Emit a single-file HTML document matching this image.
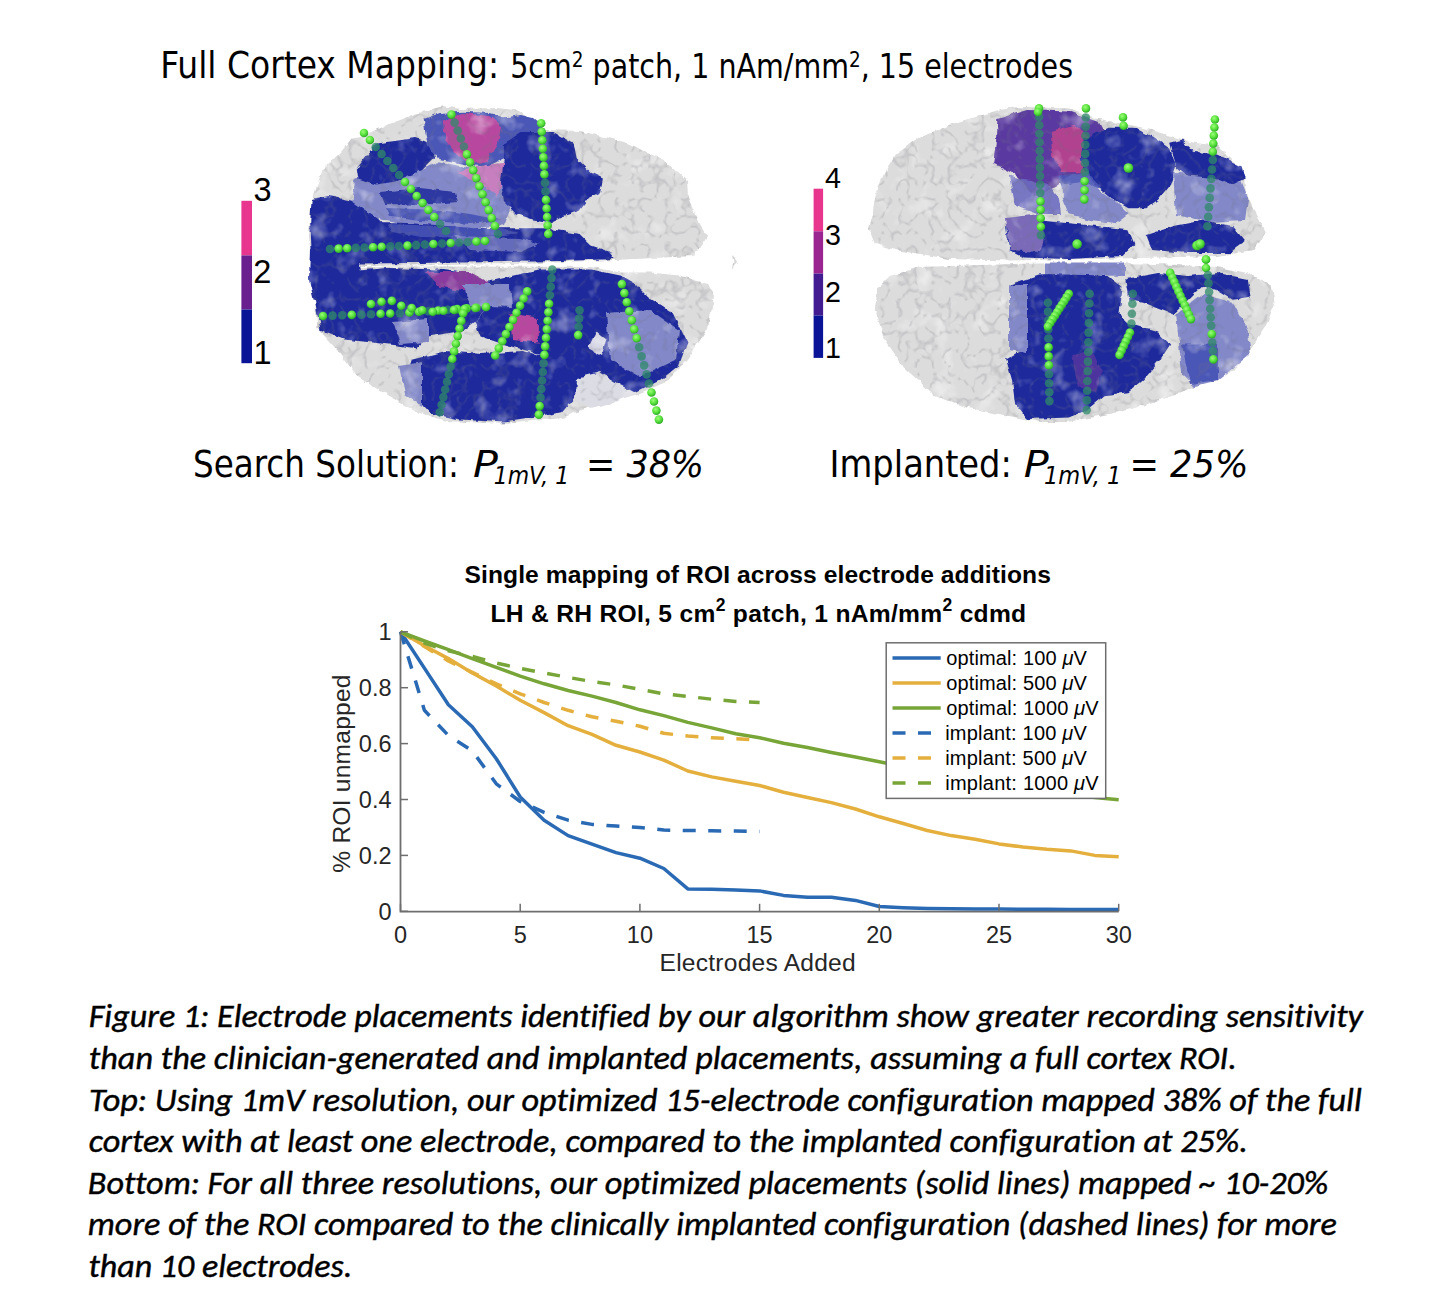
<!DOCTYPE html>
<html><head><meta charset="utf-8"><title>Figure 1</title>
<style>
html,body{margin:0;padding:0;background:#fff;}
body{width:1442px;height:1316px;overflow:hidden;}
svg{display:block;}
.tah{font-family:"DejaVu Sans Condensed","DejaVu Sans","Liberation Sans",sans-serif;}
.tahi{font-family:"DejaVu Sans Condensed","DejaVu Sans","Liberation Sans",sans-serif;font-style:italic;}
.hel{font-family:"Liberation Sans",Arial,sans-serif;}
.helb{font-family:"Liberation Sans",Arial,sans-serif;font-weight:bold;}
.cal{font-family:Carlito,"Liberation Sans",sans-serif;font-style:italic;font-variant-ligatures:none;font-feature-settings:"liga" 0,"clig" 0,"dlig" 0;}

</style></head>
<body>
<svg width="1442" height="1316" viewBox="0 0 1442 1316">
<rect width="1442" height="1316" fill="#fff"/>
<!-- top title -->
<g fill="#000">
<text x="160.3" y="78.1" class="tah" font-size="37.8" textLength="338.8" lengthAdjust="spacingAndGlyphs"  >Full Cortex Mapping:</text>
<text x="510.2" y="78.1" class="tah" font-size="33.1" textLength="562.83" lengthAdjust="spacingAndGlyphs"  >5cm<tspan font-size='21.4' dy='-11.3'>2</tspan><tspan dy='11.3'> patch, 1 nAm/mm</tspan><tspan font-size='21.4' dy='-11.3'>2</tspan><tspan dy='11.3'>, 15 electrodes</tspan></text>
</g>
<!-- brains -->
<defs>
<filter id="tex" x="-2%" y="-2%" width="104%" height="104%" color-interpolation-filters="sRGB">
<feTurbulence type="fractalNoise" baseFrequency="0.12" numOctaves="2" seed="11" result="dn"/>
<feDisplacementMap in="SourceGraphic" in2="dn" scale="5" xChannelSelector="R" yChannelSelector="G" result="sg"/>
<feTurbulence type="fractalNoise" baseFrequency="0.045" numOctaves="3" seed="7" result="n"/>
<feColorMatrix in="n" type="matrix" values="0 0 0 0 1  0 0 0 0 1  0 0 0 0 1  0 0 0 1.3 -0.72" result="w"/>
<feComposite in="w" in2="sg" operator="in" result="wm"/>
<feTurbulence type="turbulence" baseFrequency="0.06" numOctaves="2" seed="3" result="n2"/>
<feColorMatrix in="n2" type="matrix" values="0 0 0 0 0.45  0 0 0 0 0.45  0 0 0 0 0.5  0 0 0 -1.3 0.24" result="d"/>
<feComposite in="d" in2="sg" operator="in" result="dm"/>
<feMerge result="m"><feMergeNode in="sg"/><feMergeNode in="wm"/><feMergeNode in="dm"/></feMerge>
<feGaussianBlur in="m" stdDeviation="0.7"/>
</filter>
<radialGradient id="gb" cx="0.4" cy="0.35" r="0.65"><stop offset="0" stop-color="#9cff7a"/><stop offset="0.6" stop-color="#55e03a"/><stop offset="1" stop-color="#2fa82a"/></radialGradient>
</defs>
<g filter="url(#tex)">
<polygon points="309.0,231.0 311.0,207.0 317.0,185.0 323.0,169.0 341.0,152.0 352.0,138.0 369.0,134.0 392.0,123.0 422.0,112.0 443.0,106.0 460.0,109.0 498.0,108.0 520.0,111.0 546.0,130.0 580.0,131.0 605.0,137.0 624.0,142.0 646.0,152.0 663.0,159.0 687.0,180.0 688.0,197.0 696.0,217.0 707.0,236.0 694.0,256.0 615.0,260.0 520.0,264.0 440.0,265.0 360.0,266.0 316.0,264.0 310.0,250.0" fill="#dcdcdc" />
<polygon points="335.0,270.0 387.0,266.5 475.0,266.5 591.0,267.0 620.0,272.5 650.0,272.5 679.0,275.4 708.0,284.0 714.0,296.0 708.0,328.0 687.0,360.0 664.0,383.0 635.0,395.0 591.0,406.5 562.0,418.0 504.0,424.0 446.0,421.0 416.5,412.0 387.0,395.0 358.0,377.0 338.0,351.0 317.5,328.0 314.6,299.0 320.0,288.0" fill="#dcdcdc" />
<polygon points="310.0,248.0 358.0,256.0 360.0,272.0 330.0,285.0 314.0,300.0 309.0,280.0" fill="#1e2a9c" />
<polygon points="732.0,254.0 735.0,259.0 737.0,262.0 734.0,265.0 732.0,269.0 733.5,262.0" fill="#d6d6d6" />
<polygon points="311.7,199.0 329.1,196.1 358.3,202.0 375.7,216.5 381.6,222.3 416.5,222.3 445.6,225.3 486.4,228.2 503.9,228.2 521.4,228.2 544.7,228.2 562.2,231.1 579.6,234.0 591.3,245.6 608.8,251.5 614.6,259.0 562.2,261.0 503.9,262.0 416.5,263.0 358.3,263.5 317.5,262.0 311.7,251.5 310.2,222.3" fill="#1e2a9c" />
<polygon points="388.0,224.0 440.0,226.0 500.0,229.0 520.0,233.0 480.0,238.0 420.0,237.0 392.0,232.0" fill="#4b57b6" fill-opacity="0.8" />
<polygon points="355.3,178.6 387.4,172.8 422.3,169.9 439.8,161.2 463.1,167.0 503.9,175.7 509.7,210.7 503.9,225.3 474.8,228.2 439.8,225.3 396.1,222.3 372.8,216.5 352.4,202.0" fill="#8288c8" />
<polygon points="380.0,192.0 420.0,188.0 455.0,192.0 458.0,202.0 420.0,205.0 385.0,204.0" fill="#1e2a9c" fill-opacity="0.85" />
<polygon points="386.0,208.0 440.0,210.0 470.0,214.0 500.0,220.0 470.0,224.0 420.0,220.0 390.0,216.0" fill="#4b57b6" />
<polygon points="455.0,236.0 520.0,238.0 540.0,244.0 520.0,252.0 470.0,250.0" fill="#8288c8" fill-opacity="0.7" />
<polygon points="356.8,168.5 375.7,143.7 396.1,140.8 416.5,137.9 431.1,143.7 434.0,158.3 422.3,169.9 396.1,181.6 375.7,184.5 358.3,178.6" fill="#1e2a9c" />
<polygon points="423.8,118.9 439.8,113.1 463.1,111.7 489.3,113.1 503.9,117.5 521.4,116.0 533.0,123.3 530.1,137.9 509.7,143.7 503.9,158.3 486.4,167.0 463.1,164.1 436.9,158.3 428.1,146.6 425.2,132.0" fill="#4b57b6" />
<polygon points="442.7,120.4 463.1,113.1 489.3,116.0 501.0,126.2 498.1,143.7 486.4,161.2 471.9,164.1 457.3,155.3 445.6,140.8" fill="#b8489f" />
<polygon points="457.3,172.8 474.8,167.0 503.9,162.6 515.6,169.9 501.0,184.5 498.1,196.1 486.4,187.4 468.9,178.6" fill="#c77fbf" />
<polygon points="500.0,118.0 521.0,115.0 533.0,118.0 545.0,128.0 540.0,140.0 515.0,140.0 503.0,132.0" fill="#4b57b6" />
<polygon points="503.9,143.7 521.4,132.0 553.4,132.0 573.8,143.7 576.7,158.3 591.3,172.8 602.9,178.6 600.0,193.2 588.4,199.0 579.6,210.7 562.2,216.5 550.5,222.3 533.0,219.4 515.6,213.6 503.9,202.0 501.0,181.6 503.9,158.3" fill="#1e2a9c" />
<polygon points="314.6,298.7 335.0,272.5 387.4,268.1 439.8,269.6 463.1,272.5 486.4,284.1 489.3,307.4 474.8,322.0 463.1,330.7 428.2,336.6 416.5,348.2 396.1,345.3 372.8,342.4 343.7,339.5 320.4,330.7" fill="#1e2a9c" />
<polygon points="425.0,272.0 470.0,272.0 490.0,283.0 480.0,293.0 440.0,288.0" fill="#8a3a9e" />
<polygon points="393.0,322.0 428.0,319.0 428.0,342.0 400.0,344.0" fill="#8288c8" />
<polygon points="489.3,281.2 538.9,269.6 591.3,269.6 620.4,275.4 635.0,284.1 649.6,298.7 672.8,313.3 687.4,342.4 678.7,365.7 664.1,377.3 635.0,391.9 605.9,394.8 576.7,394.8 562.2,371.5 547.6,357.0 518.5,348.2 498.1,342.4 480.6,336.6 474.8,322.0 489.3,307.4" fill="#1e2a9c" />
<polygon points="463.0,284.0 510.0,284.0 512.0,307.0 470.0,305.0" fill="#8288c8" />
<polygon points="606.0,313.0 650.0,310.0 679.0,330.0 676.0,360.0 640.0,377.0 610.0,360.0" fill="#8288c8" />
<polygon points="509.7,313.3 538.9,318.0 538.9,342.4 512.0,340.0" fill="#b8489f" />
<polygon points="410.7,359.9 445.6,351.1 480.6,354.0 521.4,351.1 562.2,359.9 579.6,377.3 576.7,394.8 562.2,412.3 533.0,418.1 503.9,422.5 460.2,419.6 431.1,413.8 413.6,394.8 404.9,377.3" fill="#1e2a9c" />
<polygon points="399.0,366.0 422.0,362.0 422.0,406.0 405.0,395.0" fill="#8288c8" />
<polygon points="577.0,378.0 600.0,372.0 620.0,385.0 636.0,393.0 612.0,403.0 590.0,408.0 576.0,400.0" fill="#dcdce4" />
<polygon points="588.0,348.0 596.0,332.0 606.0,340.0 602.0,356.0" fill="#d4d4e4" />
<polygon points="869.0,229.2 877.9,184.5 895.8,154.6 919.6,136.8 949.5,124.8 979.3,115.9 1003.2,108.4 1027.0,106.9 1068.8,108.4 1098.6,118.9 1143.3,127.8 1173.2,136.8 1194.0,142.7 1217.9,145.7 1241.7,169.6 1244.7,190.4 1256.7,214.3 1265.6,232.2 1253.7,250.1 1217.9,256.0 1158.2,257.5 1098.6,259.0 1009.1,260.5 949.5,259.0 895.8,250.1 874.9,244.1" fill="#dcdcdc" />
<polygon points="889.8,275.9 919.6,266.9 1009.1,264.0 1098.6,262.5 1158.2,264.0 1217.9,266.9 1247.7,272.9 1271.6,284.8 1274.5,302.7 1265.6,326.6 1247.7,353.4 1232.8,371.3 1203.0,383.2 1173.2,395.2 1128.4,410.1 1098.6,416.0 1068.8,422.0 1039.0,422.0 1009.1,416.0 964.4,407.1 934.6,395.2 904.7,368.3 883.9,338.5 874.9,308.7 877.9,287.8" fill="#dcdcdc" />
<polygon points="997.2,118.9 1027.0,109.9 1068.8,111.4 1098.6,121.8 1104.6,133.8 1092.6,148.7 1083.7,172.5 1068.8,175.5 1050.9,184.5 1027.0,181.5 1012.1,172.5 994.2,163.6 997.2,139.7" fill="#5a3aa0" />
<polygon points="1000.0,160.0 1015.0,172.0 1034.0,196.0 1058.0,186.0 1070.0,175.0 1040.0,170.0" fill="#5a3aa0" />
<polygon points="1050.9,130.8 1075.0,125.0 1092.0,140.0 1086.7,172.5 1062.0,172.0 1052.0,155.0" fill="#b0428f" />
<polygon points="1083.7,139.7 1107.5,127.8 1134.4,127.8 1152.3,136.8 1170.2,148.7 1176.1,166.6 1170.2,184.5 1158.2,199.4 1146.3,208.3 1128.4,208.3 1113.5,199.4 1098.6,187.5 1086.7,175.5 1080.7,157.6" fill="#1e2a9c" />
<polygon points="1173.0,172.5 1200.0,170.0 1240.0,180.0 1248.0,200.0 1245.0,220.0 1210.0,222.0 1176.0,215.0" fill="#8288c8" />
<polygon points="1170.2,142.7 1182.1,139.7 1194.0,151.7 1217.9,154.6 1241.7,166.6 1244.7,178.5 1232.8,184.5 1217.9,178.5 1188.1,175.5 1176.1,166.6" fill="#1e2a9c" />
<polygon points="1146.3,235.2 1173.2,226.2 1203.0,220.3 1232.8,226.2 1244.7,241.1 1229.8,253.1 1188.1,253.1 1152.3,250.1" fill="#1e2a9c" />
<polygon points="1009.0,176.0 1030.0,180.0 1050.0,186.0 1060.0,200.0 1062.0,214.0 1040.0,214.0 1015.0,205.0" fill="#6c6cc0" fill-opacity="0.9" />
<polygon points="1058.0,176.0 1086.0,172.0 1100.0,186.0 1092.0,196.0 1066.0,196.0" fill="#4b57b6" fill-opacity="0.9" />
<polygon points="1062.8,184.5 1086.7,181.5 1113.5,199.4 1128.4,214.3 1116.5,223.2 1092.6,220.3 1068.8,214.3 1062.8,199.4" fill="#8288c8" />
<polygon points="1006.1,226.2 1039.0,220.3 1068.8,223.2 1098.6,226.2 1128.4,229.2 1134.4,244.1 1122.5,256.0 1068.8,259.0 1024.0,257.5 1009.1,250.1" fill="#1e2a9c" />
<polygon points="1006.0,218.0 1040.0,214.0 1045.0,235.0 1040.0,252.0 1010.0,250.0" fill="#7a6ab8" />
<polygon points="1009.1,284.8 1038.9,274.4 1068.8,272.9 1107.5,275.9 1122.5,287.8 1119.5,314.6 1128.4,323.6 1158.2,332.5 1170.2,344.5 1158.2,362.4 1143.3,380.3 1128.4,392.2 1104.6,395.2 1086.7,410.1 1068.8,417.5 1027.0,419.0 1015.1,404.1 1012.1,380.3 1006.1,359.4 1027.0,347.5 1015.1,329.6 1012.1,308.7" fill="#1e2a9c" />
<polygon points="1045.0,262.5 1125.0,262.5 1125.0,276.0 1045.0,274.0" fill="#8288c8" />
<polygon points="1009.0,285.0 1027.0,285.0 1027.0,353.0 1009.0,350.0" fill="#8288c8" />
<polygon points="1072.0,355.0 1092.0,350.0 1102.0,372.0 1096.0,392.0 1078.0,388.0" fill="#6a3aa0" fill-opacity="0.6" />
<polygon points="1176.1,314.6 1203.0,293.8 1232.8,302.7 1247.7,329.6 1250.7,353.4 1232.8,368.3 1217.9,380.3 1194.0,386.2 1182.1,374.3 1179.1,344.5" fill="#8288c8" />
<polygon points="1125.4,278.9 1158.2,272.9 1188.1,275.9 1217.9,272.9 1247.7,278.9 1250.7,296.8 1232.8,299.7 1217.9,290.8 1203.0,284.8 1188.1,299.7 1173.2,314.6 1158.2,308.7 1143.3,302.7 1128.4,299.7" fill="#1e2a9c" />
<polygon points="1182.0,344.5 1218.0,344.5 1218.0,380.0 1190.0,384.0" fill="#4b57b6" />
</g>
<circle cx="364.0" cy="133.0" r="4.3" fill="url(#gb)"/>
<circle cx="369.9" cy="140.0" r="4.3" fill="url(#gb)"/>
<circle cx="375.7" cy="147.0" r="4.3" fill="#2f8a6a" fill-opacity="0.75"/>
<circle cx="381.6" cy="154.0" r="4.3" fill="#2f8a6a" fill-opacity="0.75"/>
<circle cx="387.4" cy="161.0" r="4.3" fill="#2f8a6a" fill-opacity="0.75"/>
<circle cx="393.3" cy="168.0" r="4.3" fill="#2f8a6a" fill-opacity="0.75"/>
<circle cx="399.1" cy="175.0" r="4.3" fill="#2f8a6a" fill-opacity="0.75"/>
<circle cx="405.0" cy="182.0" r="4.3" fill="url(#gb)"/>
<circle cx="410.9" cy="189.0" r="4.3" fill="url(#gb)"/>
<circle cx="416.7" cy="196.0" r="4.3" fill="url(#gb)"/>
<circle cx="422.6" cy="203.0" r="4.3" fill="url(#gb)"/>
<circle cx="428.4" cy="210.0" r="4.3" fill="url(#gb)"/>
<circle cx="434.3" cy="217.0" r="4.3" fill="url(#gb)"/>
<circle cx="440.1" cy="224.0" r="4.3" fill="#2f8a6a" fill-opacity="0.75"/>
<circle cx="446.0" cy="231.0" r="4.3" fill="#2f8a6a" fill-opacity="0.75"/>
<circle cx="451.5" cy="114.6" r="4.3" fill="url(#gb)"/>
<circle cx="454.6" cy="122.6" r="4.3" fill="#2f8a6a" fill-opacity="0.75"/>
<circle cx="457.7" cy="130.5" r="4.3" fill="#2f8a6a" fill-opacity="0.75"/>
<circle cx="460.8" cy="138.5" r="4.3" fill="#2f8a6a" fill-opacity="0.75"/>
<circle cx="463.9" cy="146.5" r="4.3" fill="#2f8a6a" fill-opacity="0.75"/>
<circle cx="466.9" cy="154.4" r="4.3" fill="url(#gb)"/>
<circle cx="470.1" cy="162.4" r="4.3" fill="url(#gb)"/>
<circle cx="473.2" cy="170.3" r="4.3" fill="url(#gb)"/>
<circle cx="476.3" cy="178.3" r="4.3" fill="url(#gb)"/>
<circle cx="479.4" cy="186.3" r="4.3" fill="url(#gb)"/>
<circle cx="482.5" cy="194.2" r="4.3" fill="url(#gb)"/>
<circle cx="485.6" cy="202.2" r="4.3" fill="url(#gb)"/>
<circle cx="488.7" cy="210.1" r="4.3" fill="url(#gb)"/>
<circle cx="491.8" cy="218.1" r="4.3" fill="url(#gb)"/>
<circle cx="494.9" cy="226.0" r="4.3" fill="url(#gb)"/>
<circle cx="498.0" cy="234.0" r="4.3" fill="#2f8a6a" fill-opacity="0.75"/>
<circle cx="541.2" cy="123.3" r="4.3" fill="url(#gb)"/>
<circle cx="541.7" cy="131.8" r="4.3" fill="url(#gb)"/>
<circle cx="542.3" cy="140.3" r="4.3" fill="url(#gb)"/>
<circle cx="542.8" cy="148.8" r="4.3" fill="url(#gb)"/>
<circle cx="543.4" cy="157.4" r="4.3" fill="url(#gb)"/>
<circle cx="543.9" cy="165.9" r="4.3" fill="url(#gb)"/>
<circle cx="544.4" cy="174.4" r="4.3" fill="url(#gb)"/>
<circle cx="545.0" cy="182.9" r="4.3" fill="#2f8a6a" fill-opacity="0.75"/>
<circle cx="545.5" cy="191.4" r="4.3" fill="#2f8a6a" fill-opacity="0.75"/>
<circle cx="546.0" cy="199.9" r="4.3" fill="url(#gb)"/>
<circle cx="546.6" cy="208.5" r="4.3" fill="url(#gb)"/>
<circle cx="547.1" cy="217.0" r="4.3" fill="url(#gb)"/>
<circle cx="547.7" cy="225.5" r="4.3" fill="url(#gb)"/>
<circle cx="548.2" cy="234.0" r="4.3" fill="url(#gb)"/>
<circle cx="330.0" cy="249.0" r="4.3" fill="#2f8a6a" fill-opacity="0.75"/>
<circle cx="338.6" cy="248.6" r="4.3" fill="url(#gb)"/>
<circle cx="347.2" cy="248.3" r="4.3" fill="url(#gb)"/>
<circle cx="355.8" cy="247.9" r="4.3" fill="#2f8a6a" fill-opacity="0.75"/>
<circle cx="364.5" cy="247.5" r="4.3" fill="#2f8a6a" fill-opacity="0.75"/>
<circle cx="373.1" cy="247.2" r="4.3" fill="url(#gb)"/>
<circle cx="381.7" cy="246.8" r="4.3" fill="url(#gb)"/>
<circle cx="390.3" cy="246.4" r="4.3" fill="#2f8a6a" fill-opacity="0.75"/>
<circle cx="398.9" cy="246.0" r="4.3" fill="#2f8a6a" fill-opacity="0.75"/>
<circle cx="407.5" cy="245.6" r="4.3" fill="url(#gb)"/>
<circle cx="416.1" cy="245.1" r="4.3" fill="#2f8a6a" fill-opacity="0.75"/>
<circle cx="424.7" cy="244.5" r="4.3" fill="#2f8a6a" fill-opacity="0.75"/>
<circle cx="433.4" cy="244.0" r="4.3" fill="url(#gb)"/>
<circle cx="442.0" cy="243.5" r="4.3" fill="#2f8a6a" fill-opacity="0.75"/>
<circle cx="450.6" cy="243.0" r="4.3" fill="url(#gb)"/>
<circle cx="459.2" cy="242.5" r="4.3" fill="#2f8a6a" fill-opacity="0.75"/>
<circle cx="467.8" cy="242.0" r="4.3" fill="#2f8a6a" fill-opacity="0.75"/>
<circle cx="476.4" cy="241.5" r="4.3" fill="url(#gb)"/>
<circle cx="485.0" cy="241.0" r="4.3" fill="url(#gb)"/>
<circle cx="323.0" cy="316.0" r="4.3" fill="url(#gb)"/>
<circle cx="332.6" cy="315.6" r="4.3" fill="#2f8a6a" fill-opacity="0.75"/>
<circle cx="342.2" cy="315.3" r="4.3" fill="#2f8a6a" fill-opacity="0.75"/>
<circle cx="351.8" cy="314.9" r="4.3" fill="url(#gb)"/>
<circle cx="361.4" cy="314.6" r="4.3" fill="#2f8a6a" fill-opacity="0.75"/>
<circle cx="371.0" cy="314.2" r="4.3" fill="#2f8a6a" fill-opacity="0.75"/>
<circle cx="380.6" cy="313.8" r="4.3" fill="url(#gb)"/>
<circle cx="390.2" cy="313.5" r="4.3" fill="url(#gb)"/>
<circle cx="399.8" cy="313.1" r="4.3" fill="#2f8a6a" fill-opacity="0.75"/>
<circle cx="409.4" cy="312.5" r="4.3" fill="url(#gb)"/>
<circle cx="418.9" cy="311.8" r="4.3" fill="url(#gb)"/>
<circle cx="428.5" cy="311.2" r="4.3" fill="#2f8a6a" fill-opacity="0.75"/>
<circle cx="438.1" cy="310.5" r="4.3" fill="url(#gb)"/>
<circle cx="447.7" cy="309.8" r="4.3" fill="#2f8a6a" fill-opacity="0.75"/>
<circle cx="457.3" cy="309.1" r="4.3" fill="url(#gb)"/>
<circle cx="466.8" cy="308.4" r="4.3" fill="url(#gb)"/>
<circle cx="476.4" cy="307.7" r="4.3" fill="url(#gb)"/>
<circle cx="486.0" cy="307.0" r="4.3" fill="url(#gb)"/>
<circle cx="371.0" cy="304.0" r="4.3" fill="url(#gb)"/>
<circle cx="381.5" cy="301.8" r="4.3" fill="url(#gb)"/>
<circle cx="391.8" cy="300.9" r="4.3" fill="url(#gb)"/>
<circle cx="401.3" cy="305.7" r="4.3" fill="url(#gb)"/>
<circle cx="411.7" cy="308.1" r="4.3" fill="url(#gb)"/>
<circle cx="422.2" cy="310.3" r="4.3" fill="url(#gb)"/>
<circle cx="432.7" cy="311.8" r="4.3" fill="url(#gb)"/>
<circle cx="443.4" cy="310.8" r="4.3" fill="url(#gb)"/>
<circle cx="454.0" cy="309.9" r="4.3" fill="url(#gb)"/>
<circle cx="464.7" cy="308.9" r="4.3" fill="url(#gb)"/>
<circle cx="475.3" cy="308.0" r="4.3" fill="url(#gb)"/>
<circle cx="486.0" cy="307.0" r="4.3" fill="url(#gb)"/>
<circle cx="463.1" cy="313.3" r="4.3" fill="url(#gb)"/>
<circle cx="461.3" cy="320.9" r="4.3" fill="url(#gb)"/>
<circle cx="459.5" cy="328.5" r="4.3" fill="url(#gb)"/>
<circle cx="457.7" cy="336.1" r="4.3" fill="url(#gb)"/>
<circle cx="455.9" cy="343.8" r="4.3" fill="url(#gb)"/>
<circle cx="454.1" cy="351.4" r="4.3" fill="url(#gb)"/>
<circle cx="452.3" cy="359.0" r="4.3" fill="url(#gb)"/>
<circle cx="450.6" cy="366.6" r="4.3" fill="#2f8a6a" fill-opacity="0.75"/>
<circle cx="448.8" cy="374.2" r="4.3" fill="#2f8a6a" fill-opacity="0.75"/>
<circle cx="447.0" cy="381.8" r="4.3" fill="#2f8a6a" fill-opacity="0.75"/>
<circle cx="445.2" cy="389.5" r="4.3" fill="#2f8a6a" fill-opacity="0.75"/>
<circle cx="443.4" cy="397.1" r="4.3" fill="#2f8a6a" fill-opacity="0.75"/>
<circle cx="441.6" cy="404.7" r="4.3" fill="#2f8a6a" fill-opacity="0.75"/>
<circle cx="439.8" cy="412.3" r="4.3" fill="#2f8a6a" fill-opacity="0.75"/>
<circle cx="527.2" cy="291.4" r="4.3" fill="url(#gb)"/>
<circle cx="523.6" cy="298.5" r="4.3" fill="url(#gb)"/>
<circle cx="520.1" cy="305.6" r="4.3" fill="url(#gb)"/>
<circle cx="516.5" cy="312.8" r="4.3" fill="url(#gb)"/>
<circle cx="513.0" cy="319.9" r="4.3" fill="url(#gb)"/>
<circle cx="509.4" cy="327.0" r="4.3" fill="url(#gb)"/>
<circle cx="505.9" cy="334.1" r="4.3" fill="url(#gb)"/>
<circle cx="502.3" cy="341.3" r="4.3" fill="url(#gb)"/>
<circle cx="498.8" cy="348.4" r="4.3" fill="url(#gb)"/>
<circle cx="495.2" cy="355.5" r="4.3" fill="url(#gb)"/>
<circle cx="552.3" cy="269.6" r="4.3" fill="#2f8a6a" fill-opacity="0.75"/>
<circle cx="551.5" cy="278.1" r="4.3" fill="#2f8a6a" fill-opacity="0.75"/>
<circle cx="550.7" cy="286.7" r="4.3" fill="#2f8a6a" fill-opacity="0.75"/>
<circle cx="549.9" cy="295.2" r="4.3" fill="#2f8a6a" fill-opacity="0.75"/>
<circle cx="549.1" cy="303.7" r="4.3" fill="url(#gb)"/>
<circle cx="548.4" cy="312.2" r="4.3" fill="url(#gb)"/>
<circle cx="547.6" cy="320.8" r="4.3" fill="url(#gb)"/>
<circle cx="546.8" cy="329.3" r="4.3" fill="url(#gb)"/>
<circle cx="546.0" cy="337.8" r="4.3" fill="url(#gb)"/>
<circle cx="545.2" cy="346.4" r="4.3" fill="url(#gb)"/>
<circle cx="544.4" cy="354.9" r="4.3" fill="url(#gb)"/>
<circle cx="543.6" cy="363.4" r="4.3" fill="#2f8a6a" fill-opacity="0.75"/>
<circle cx="542.8" cy="372.0" r="4.3" fill="#2f8a6a" fill-opacity="0.75"/>
<circle cx="542.1" cy="380.5" r="4.3" fill="#2f8a6a" fill-opacity="0.75"/>
<circle cx="541.3" cy="389.0" r="4.3" fill="#2f8a6a" fill-opacity="0.75"/>
<circle cx="540.5" cy="397.5" r="4.3" fill="#2f8a6a" fill-opacity="0.75"/>
<circle cx="539.7" cy="406.1" r="4.3" fill="url(#gb)"/>
<circle cx="538.9" cy="414.6" r="4.3" fill="url(#gb)"/>
<circle cx="579.6" cy="310.3" r="4.3" fill="#2f8a6a" fill-opacity="0.75"/>
<circle cx="579.1" cy="318.6" r="4.3" fill="#2f8a6a" fill-opacity="0.75"/>
<circle cx="578.7" cy="326.8" r="4.3" fill="#2f8a6a" fill-opacity="0.75"/>
<circle cx="578.2" cy="335.1" r="4.3" fill="url(#gb)"/>
<circle cx="621.9" cy="284.1" r="4.3" fill="url(#gb)"/>
<circle cx="624.4" cy="293.1" r="4.3" fill="url(#gb)"/>
<circle cx="626.8" cy="302.2" r="4.3" fill="url(#gb)"/>
<circle cx="629.3" cy="311.2" r="4.3" fill="url(#gb)"/>
<circle cx="631.8" cy="320.2" r="4.3" fill="url(#gb)"/>
<circle cx="634.2" cy="329.3" r="4.3" fill="url(#gb)"/>
<circle cx="636.7" cy="338.3" r="4.3" fill="url(#gb)"/>
<circle cx="639.2" cy="347.3" r="4.3" fill="#2f8a6a" fill-opacity="0.75"/>
<circle cx="641.6" cy="356.4" r="4.3" fill="#2f8a6a" fill-opacity="0.75"/>
<circle cx="644.1" cy="365.4" r="4.3" fill="#2f8a6a" fill-opacity="0.75"/>
<circle cx="646.6" cy="374.4" r="4.3" fill="#2f8a6a" fill-opacity="0.75"/>
<circle cx="649.0" cy="383.5" r="4.3" fill="#2f8a6a" fill-opacity="0.75"/>
<circle cx="651.5" cy="392.5" r="4.3" fill="url(#gb)"/>
<circle cx="654.0" cy="401.5" r="4.3" fill="url(#gb)"/>
<circle cx="656.4" cy="410.6" r="4.3" fill="url(#gb)"/>
<circle cx="658.9" cy="419.6" r="4.3" fill="url(#gb)"/>
<circle cx="1039.0" cy="108.4" r="4.3" fill="url(#gb)"/>
<circle cx="1039.1" cy="116.9" r="4.3" fill="#2f8a6a" fill-opacity="0.75"/>
<circle cx="1039.3" cy="125.3" r="4.3" fill="#2f8a6a" fill-opacity="0.75"/>
<circle cx="1039.4" cy="133.8" r="4.3" fill="#2f8a6a" fill-opacity="0.75"/>
<circle cx="1039.5" cy="142.2" r="4.3" fill="#2f8a6a" fill-opacity="0.75"/>
<circle cx="1039.7" cy="150.7" r="4.3" fill="#2f8a6a" fill-opacity="0.75"/>
<circle cx="1039.8" cy="159.1" r="4.3" fill="#2f8a6a" fill-opacity="0.75"/>
<circle cx="1039.9" cy="167.6" r="4.3" fill="#2f8a6a" fill-opacity="0.75"/>
<circle cx="1040.1" cy="176.0" r="4.3" fill="#2f8a6a" fill-opacity="0.75"/>
<circle cx="1040.2" cy="184.5" r="4.3" fill="#2f8a6a" fill-opacity="0.75"/>
<circle cx="1040.3" cy="192.9" r="4.3" fill="#2f8a6a" fill-opacity="0.75"/>
<circle cx="1040.5" cy="201.4" r="4.3" fill="url(#gb)"/>
<circle cx="1040.6" cy="209.8" r="4.3" fill="url(#gb)"/>
<circle cx="1040.7" cy="218.3" r="4.3" fill="url(#gb)"/>
<circle cx="1040.9" cy="226.7" r="4.3" fill="url(#gb)"/>
<circle cx="1041.0" cy="235.2" r="4.3" fill="#2f8a6a" fill-opacity="0.75"/>
<circle cx="1038.0" cy="112.0" r="4.3" fill="url(#gb)"/>
<circle cx="1086.0" cy="108.4" r="4.3" fill="url(#gb)"/>
<circle cx="1085.8" cy="117.5" r="4.3" fill="#2f8a6a" fill-opacity="0.75"/>
<circle cx="1085.7" cy="126.6" r="4.3" fill="#2f8a6a" fill-opacity="0.75"/>
<circle cx="1085.5" cy="135.7" r="4.3" fill="#2f8a6a" fill-opacity="0.75"/>
<circle cx="1085.3" cy="144.8" r="4.3" fill="#2f8a6a" fill-opacity="0.75"/>
<circle cx="1085.2" cy="153.9" r="4.3" fill="#2f8a6a" fill-opacity="0.75"/>
<circle cx="1085.0" cy="163.0" r="4.3" fill="#2f8a6a" fill-opacity="0.75"/>
<circle cx="1084.8" cy="172.1" r="4.3" fill="#2f8a6a" fill-opacity="0.75"/>
<circle cx="1084.6" cy="181.2" r="4.3" fill="url(#gb)"/>
<circle cx="1084.5" cy="190.3" r="4.3" fill="url(#gb)"/>
<circle cx="1084.3" cy="199.4" r="4.3" fill="url(#gb)"/>
<circle cx="1123.0" cy="117.4" r="4.3" fill="url(#gb)"/>
<circle cx="1123.6" cy="125.7" r="4.3" fill="url(#gb)"/>
<circle cx="1128.4" cy="168.0" r="4.8" fill="url(#gb)"/>
<circle cx="1214.9" cy="119.5" r="4.3" fill="url(#gb)"/>
<circle cx="1214.4" cy="127.5" r="4.3" fill="url(#gb)"/>
<circle cx="1213.8" cy="135.6" r="4.3" fill="url(#gb)"/>
<circle cx="1213.3" cy="143.6" r="4.3" fill="url(#gb)"/>
<circle cx="1212.8" cy="151.7" r="4.3" fill="url(#gb)"/>
<circle cx="1212.8" cy="160.0" r="4.3" fill="#2f8a6a" fill-opacity="0.75"/>
<circle cx="1212.0" cy="169.5" r="4.3" fill="#2f8a6a" fill-opacity="0.75"/>
<circle cx="1211.3" cy="178.9" r="4.3" fill="#2f8a6a" fill-opacity="0.75"/>
<circle cx="1210.5" cy="188.4" r="4.3" fill="#2f8a6a" fill-opacity="0.75"/>
<circle cx="1209.7" cy="197.8" r="4.3" fill="#2f8a6a" fill-opacity="0.75"/>
<circle cx="1208.9" cy="207.3" r="4.3" fill="#2f8a6a" fill-opacity="0.75"/>
<circle cx="1208.2" cy="216.7" r="4.3" fill="#2f8a6a" fill-opacity="0.75"/>
<circle cx="1207.4" cy="226.2" r="4.3" fill="#2f8a6a" fill-opacity="0.75"/>
<circle cx="1197.0" cy="245.6" r="4.8" fill="url(#gb)"/>
<circle cx="1200.0" cy="244.0" r="4.8" fill="url(#gb)"/>
<circle cx="1206.0" cy="259.5" r="4.3" fill="url(#gb)"/>
<circle cx="1206.0" cy="268.0" r="4.3" fill="url(#gb)"/>
<circle cx="1077.1" cy="244.1" r="4.8" fill="url(#gb)"/>
<circle cx="1047.9" cy="302.7" r="4.3" fill="#2f8a6a" fill-opacity="0.75"/>
<circle cx="1048.0" cy="311.6" r="4.3" fill="#2f8a6a" fill-opacity="0.75"/>
<circle cx="1048.2" cy="320.6" r="4.3" fill="#2f8a6a" fill-opacity="0.75"/>
<circle cx="1048.3" cy="329.5" r="4.3" fill="#2f8a6a" fill-opacity="0.75"/>
<circle cx="1048.4" cy="338.5" r="4.3" fill="#2f8a6a" fill-opacity="0.75"/>
<circle cx="1048.6" cy="347.4" r="4.3" fill="url(#gb)"/>
<circle cx="1048.7" cy="356.4" r="4.3" fill="url(#gb)"/>
<circle cx="1048.9" cy="365.3" r="4.3" fill="url(#gb)"/>
<circle cx="1049.0" cy="374.3" r="4.3" fill="#2f8a6a" fill-opacity="0.75"/>
<circle cx="1049.1" cy="383.2" r="4.3" fill="#2f8a6a" fill-opacity="0.75"/>
<circle cx="1049.3" cy="392.2" r="4.3" fill="#2f8a6a" fill-opacity="0.75"/>
<circle cx="1049.4" cy="401.1" r="4.3" fill="#2f8a6a" fill-opacity="0.75"/>
<circle cx="1068.8" cy="293.8" r="4.3" fill="url(#gb)"/>
<circle cx="1066.5" cy="297.4" r="4.3" fill="url(#gb)"/>
<circle cx="1064.2" cy="301.1" r="4.3" fill="url(#gb)"/>
<circle cx="1061.8" cy="304.7" r="4.3" fill="url(#gb)"/>
<circle cx="1059.5" cy="308.4" r="4.3" fill="url(#gb)"/>
<circle cx="1057.2" cy="312.0" r="4.3" fill="url(#gb)"/>
<circle cx="1054.9" cy="315.7" r="4.3" fill="url(#gb)"/>
<circle cx="1052.5" cy="319.3" r="4.3" fill="url(#gb)"/>
<circle cx="1050.2" cy="323.0" r="4.3" fill="url(#gb)"/>
<circle cx="1047.9" cy="326.6" r="4.3" fill="url(#gb)"/>
<circle cx="1089.6" cy="293.8" r="4.3" fill="#2f8a6a" fill-opacity="0.75"/>
<circle cx="1089.4" cy="303.5" r="4.3" fill="#2f8a6a" fill-opacity="0.75"/>
<circle cx="1089.1" cy="313.2" r="4.3" fill="#2f8a6a" fill-opacity="0.75"/>
<circle cx="1088.9" cy="322.9" r="4.3" fill="#2f8a6a" fill-opacity="0.75"/>
<circle cx="1088.6" cy="332.6" r="4.3" fill="#2f8a6a" fill-opacity="0.75"/>
<circle cx="1088.4" cy="342.3" r="4.3" fill="#2f8a6a" fill-opacity="0.75"/>
<circle cx="1088.2" cy="352.0" r="4.3" fill="#2f8a6a" fill-opacity="0.75"/>
<circle cx="1087.9" cy="361.6" r="4.3" fill="#2f8a6a" fill-opacity="0.75"/>
<circle cx="1087.7" cy="371.3" r="4.3" fill="#2f8a6a" fill-opacity="0.75"/>
<circle cx="1087.4" cy="381.0" r="4.3" fill="#2f8a6a" fill-opacity="0.75"/>
<circle cx="1087.2" cy="390.7" r="4.3" fill="#2f8a6a" fill-opacity="0.75"/>
<circle cx="1086.9" cy="400.4" r="4.3" fill="#2f8a6a" fill-opacity="0.75"/>
<circle cx="1086.7" cy="410.1" r="4.3" fill="#2f8a6a" fill-opacity="0.75"/>
<circle cx="1132.9" cy="293.8" r="4.3" fill="#2f8a6a" fill-opacity="0.75"/>
<circle cx="1132.4" cy="303.7" r="4.3" fill="#2f8a6a" fill-opacity="0.75"/>
<circle cx="1131.9" cy="313.7" r="4.3" fill="#2f8a6a" fill-opacity="0.75"/>
<circle cx="1131.4" cy="323.6" r="4.3" fill="#2f8a6a" fill-opacity="0.75"/>
<circle cx="1129.9" cy="332.5" r="4.3" fill="url(#gb)"/>
<circle cx="1127.8" cy="337.0" r="4.3" fill="url(#gb)"/>
<circle cx="1125.7" cy="341.5" r="4.3" fill="url(#gb)"/>
<circle cx="1123.7" cy="345.9" r="4.3" fill="url(#gb)"/>
<circle cx="1121.6" cy="350.4" r="4.3" fill="url(#gb)"/>
<circle cx="1119.5" cy="354.9" r="4.3" fill="url(#gb)"/>
<circle cx="1170.2" cy="272.9" r="4.3" fill="url(#gb)"/>
<circle cx="1172.3" cy="277.5" r="4.3" fill="url(#gb)"/>
<circle cx="1174.4" cy="282.1" r="4.3" fill="url(#gb)"/>
<circle cx="1176.4" cy="286.8" r="4.3" fill="url(#gb)"/>
<circle cx="1178.5" cy="291.4" r="4.3" fill="url(#gb)"/>
<circle cx="1180.6" cy="296.0" r="4.3" fill="url(#gb)"/>
<circle cx="1182.7" cy="300.6" r="4.3" fill="url(#gb)"/>
<circle cx="1184.8" cy="305.2" r="4.3" fill="url(#gb)"/>
<circle cx="1186.8" cy="309.9" r="4.3" fill="url(#gb)"/>
<circle cx="1188.9" cy="314.5" r="4.3" fill="url(#gb)"/>
<circle cx="1191.0" cy="319.1" r="4.3" fill="url(#gb)"/>
<circle cx="1206.0" cy="259.5" r="4.3" fill="url(#gb)"/>
<circle cx="1208.0" cy="275.0" r="4.3" fill="#2f8a6a" fill-opacity="0.75"/>
<circle cx="1208.5" cy="283.4" r="4.3" fill="#2f8a6a" fill-opacity="0.75"/>
<circle cx="1209.1" cy="291.9" r="4.3" fill="#2f8a6a" fill-opacity="0.75"/>
<circle cx="1209.6" cy="300.3" r="4.3" fill="#2f8a6a" fill-opacity="0.75"/>
<circle cx="1210.2" cy="308.8" r="4.3" fill="#2f8a6a" fill-opacity="0.75"/>
<circle cx="1210.7" cy="317.2" r="4.3" fill="#2f8a6a" fill-opacity="0.75"/>
<circle cx="1211.2" cy="325.6" r="4.3" fill="#2f8a6a" fill-opacity="0.75"/>
<circle cx="1211.8" cy="334.1" r="4.3" fill="url(#gb)"/>
<circle cx="1212.3" cy="342.5" r="4.3" fill="#2f8a6a" fill-opacity="0.75"/>
<circle cx="1212.9" cy="351.0" r="4.3" fill="#2f8a6a" fill-opacity="0.75"/>
<circle cx="1213.4" cy="359.4" r="4.3" fill="url(#gb)"/>
<!-- colorbars -->
<g>
<rect x="241.4" y="200.8" width="10.6" height="54.6" fill="#E8368F"/>
<rect x="241.4" y="255.4" width="10.6" height="54.1" fill="#6A1F8F"/>
<rect x="241.4" y="309.5" width="10.6" height="53.7" fill="#0A1496"/>
<rect x="813.6" y="188.7" width="9.5" height="42.6" fill="#E8368F"/>
<rect x="813.6" y="231.3" width="9.5" height="42.3" fill="#9B2590"/>
<rect x="813.6" y="273.6" width="9.5" height="42" fill="#431C92"/>
<rect x="813.6" y="315.6" width="9.5" height="42.3" fill="#0A1496"/>
</g>
<g class="hel" font-size="32.5" fill="#000">
<text x="253.5" y="201.2">3</text><text x="253.3" y="282.6">2</text><text x="253.6" y="363.9">1</text>
</g>
<g class="hel" font-size="28.7" fill="#000">
<text x="825" y="188.4">4</text><text x="825" y="245.3">3</text><text x="825" y="301.5">2</text><text x="825" y="358.2">1</text>
</g>
<!-- labels -->
<g fill="#000">
<text x="193.0" y="476.8" class="tah" font-size="38" textLength="266.03" lengthAdjust="spacingAndGlyphs"  >Search Solution:</text>
<text x="472.9" y="476.8" class="tahi" font-size="38" textLength="24.83" lengthAdjust="spacingAndGlyphs"  >P</text>
<text x="493.7" y="484.2" class="tahi" font-size="25" textLength="75.43" lengthAdjust="spacingAndGlyphs"  >1mV, 1</text>
<text x="586.0" y="476.8" class="tahi" font-size="38" textLength="118.08" lengthAdjust="spacingAndGlyphs"  >= 38%</text>
<text x="829.6" y="476.8" class="tah" font-size="38" textLength="182.29" lengthAdjust="spacingAndGlyphs"  >Implanted:</text>
<text x="1023.7" y="476.8" class="tahi" font-size="38" textLength="24.92" lengthAdjust="spacingAndGlyphs"  >P</text>
<text x="1044.0" y="484.2" class="tahi" font-size="25" textLength="77.33" lengthAdjust="spacingAndGlyphs"  >1mV, 1</text>
<text x="1129.4" y="476.8" class="tahi" font-size="38" textLength="118.98" lengthAdjust="spacingAndGlyphs"  >= 25%</text>
</g>
<!-- chart -->
<g fill="#000">
<text x="464.5" y="583.2" class="helb" font-size="24.6" textLength="586.36" lengthAdjust="spacing"  >Single mapping of ROI across electrode additions</text>
<text x="490.4" y="621.6" class="helb" font-size="24.6" textLength="535.75" lengthAdjust="spacing"  >LH &amp; RH ROI, 5 cm<tspan font-size='17.5' dy='-10.5'>2</tspan><tspan dy='10.5'> patch, 1 nAm/mm</tspan><tspan font-size='17.5' dy='-10.5'>2</tspan><tspan dy='10.5'> cdmd</tspan></text>
</g>
<polyline points="400.5,631.8 424.4,668.1 448.4,704.7 472.3,726.8 496.3,758.7 520.2,797.0 544.1,820.2 568.1,835.6 592.0,844.2 616.0,852.6 639.9,858.2 663.8,868.5 687.8,888.9 711.7,889.2 735.7,890.1 759.6,890.9 783.5,895.4 807.5,897.3 831.4,897.3 855.4,900.4 879.3,906.5 903.2,907.7 927.2,908.5 951.1,908.8 975.1,909.1 999.0,909.1 1022.9,909.3 1046.9,909.3 1070.8,909.6 1094.8,909.6 1118.7,909.6" fill="none" stroke="#2a69b3" stroke-width="3.5" stroke-linejoin="round"/>
<polyline points="400.5,631.8 424.4,645.8 448.4,658.6 472.3,672.9 496.3,686.0 520.2,700.3 544.1,712.6 568.1,725.7 592.0,734.4 616.0,745.3 639.9,752.0 663.8,760.1 687.8,771.0 711.7,776.9 735.7,781.3 759.6,785.5 783.5,792.2 807.5,797.5 831.4,802.6 855.4,809.0 879.3,816.8 903.2,823.5 927.2,830.5 951.1,835.6 975.1,839.2 999.0,843.9 1022.9,847.0 1046.9,849.3 1070.8,850.9 1094.8,855.4 1118.7,856.8" fill="none" stroke="#e4af3c" stroke-width="3.5" stroke-linejoin="round"/>
<polyline points="400.5,631.8 424.4,641.0 448.4,649.7 472.3,658.6 496.3,667.3 520.2,676.2 544.1,683.8 568.1,690.5 592.0,696.1 616.0,702.5 639.9,709.8 663.8,715.6 687.8,722.4 711.7,727.9 735.7,733.8 759.6,737.7 783.5,743.3 807.5,747.5 831.4,752.5 855.4,757.0 879.3,761.8 903.2,766.5 927.2,771.0 951.1,775.2 975.1,779.4 999.0,783.3 1022.9,786.9 1046.9,790.6 1070.8,793.9 1094.8,797.5 1118.7,799.8" fill="none" stroke="#78a537" stroke-width="3.5" stroke-linejoin="round"/>
<polyline points="400.5,631.8 424.4,710.3 448.4,735.5 472.3,750.9 496.3,783.8 520.2,801.5 544.1,812.4 568.1,820.2 592.0,824.4 616.0,826.1 639.9,827.4 663.8,830.0 687.8,830.5 711.7,830.8 735.7,831.1 759.6,831.6" fill="none" stroke="#2a69b3" stroke-width="3.5" stroke-linejoin="round" stroke-dasharray="13 12.5"/>
<polyline points="400.5,631.8 424.4,646.6 448.4,660.9 472.3,672.3 496.3,683.8 520.2,693.8 544.1,702.5 568.1,710.3 592.0,716.8 616.0,721.2 639.9,726.3 663.8,733.3 687.8,736.1 711.7,737.7 735.7,738.8 759.6,740.0" fill="none" stroke="#e4af3c" stroke-width="3.5" stroke-linejoin="round" stroke-dasharray="13 12.5"/>
<polyline points="400.5,631.8 424.4,643.0 448.4,650.8 472.3,656.4 496.3,663.1 520.2,668.4 544.1,672.9 568.1,677.4 592.0,681.6 616.0,684.9 639.9,689.4 663.8,693.8 687.8,696.4 711.7,699.2 735.7,701.4 759.6,702.5" fill="none" stroke="#78a537" stroke-width="3.5" stroke-linejoin="round" stroke-dasharray="13 12.5"/>

<g stroke="#6e6e6e" stroke-width="1.8" fill="none">
<polyline points="400.5,631.8 400.5,911.7 1118.7,911.7"/>
</g>
<g stroke="#6e6e6e" stroke-width="1.5">
<line x1="400.5" y1="911.3" x2="400.5" y2="903.8"/>
<line x1="520.2" y1="911.3" x2="520.2" y2="903.8"/>
<line x1="639.9" y1="911.3" x2="639.9" y2="903.8"/>
<line x1="759.6" y1="911.3" x2="759.6" y2="903.8"/>
<line x1="879.3" y1="911.3" x2="879.3" y2="903.8"/>
<line x1="999.0" y1="911.3" x2="999.0" y2="903.8"/>
<line x1="1118.7" y1="911.3" x2="1118.7" y2="903.8"/>
<line x1="400.5" y1="911.3" x2="408.0" y2="911.3"/>
<line x1="400.5" y1="855.4" x2="408.0" y2="855.4"/>
<line x1="400.5" y1="799.5" x2="408.0" y2="799.5"/>
<line x1="400.5" y1="743.6" x2="408.0" y2="743.6"/>
<line x1="400.5" y1="687.7" x2="408.0" y2="687.7"/>
<line x1="400.5" y1="631.8" x2="408.0" y2="631.8"/>
</g>
<g class="hel" font-size="23.5" fill="#262626">
<text x="400.5" y="942.6" text-anchor="middle">0</text>
<text x="520.2" y="942.6" text-anchor="middle">5</text>
<text x="639.9" y="942.6" text-anchor="middle">10</text>
<text x="759.6" y="942.6" text-anchor="middle">15</text>
<text x="879.3" y="942.6" text-anchor="middle">20</text>
<text x="999.0" y="942.6" text-anchor="middle">25</text>
<text x="1118.7" y="942.6" text-anchor="middle">30</text>
<text x="391.5" y="919.6" text-anchor="end">0</text>
<text x="391.5" y="863.7" text-anchor="end">0.2</text>
<text x="391.5" y="807.8" text-anchor="end">0.4</text>
<text x="391.5" y="751.9" text-anchor="end">0.6</text>
<text x="391.5" y="696.0" text-anchor="end">0.8</text>
<text x="391.5" y="640.1" text-anchor="end">1</text>
</g>
<g fill="#262626">
<text x="659.5" y="971" class="hel" font-size="24.6" textLength="196.2" lengthAdjust="spacing"  >Electrodes Added</text>
<text transform="translate(349.6,773.6) rotate(-90)" class="hel" font-size="24.6" text-anchor="middle" textLength="198.3" lengthAdjust="spacing">% ROI unmapped</text>
</g>
<rect x="886.2" y="642.8" width="219.5" height="155.6" fill="#fff" stroke="#6e6e6e" stroke-width="1.5"/>
<g class="hel" font-size="20" fill="#000">
<line x1="892.5" y1="658.1" x2="940.7" y2="658.1" stroke="#2a69b3" stroke-width="3.5"/>
<text x="946.2" y="664.8" textLength="140.63" lengthAdjust="spacing">optimal: 100 <tspan font-style="italic">&#956;</tspan>V</text>
<line x1="892.5" y1="683.1" x2="940.7" y2="683.1" stroke="#e4af3c" stroke-width="3.5"/>
<text x="946.2" y="689.8" textLength="140.63" lengthAdjust="spacing">optimal: 500 <tspan font-style="italic">&#956;</tspan>V</text>
<line x1="892.5" y1="708.0" x2="940.7" y2="708.0" stroke="#78a537" stroke-width="3.5"/>
<text x="946.2" y="714.7" textLength="152.45" lengthAdjust="spacing">optimal: 1000 <tspan font-style="italic">&#956;</tspan>V</text>
<line x1="892.5" y1="733.0" x2="940.7" y2="733.0" stroke="#2a69b3" stroke-width="3.5" stroke-dasharray="13 12.5"/>
<text x="945.2" y="739.7" textLength="141.63" lengthAdjust="spacing">implant: 100 <tspan font-style="italic">&#956;</tspan>V</text>
<line x1="892.5" y1="757.9" x2="940.7" y2="757.9" stroke="#e4af3c" stroke-width="3.5" stroke-dasharray="13 12.5"/>
<text x="945.2" y="764.6" textLength="141.63" lengthAdjust="spacing">implant: 500 <tspan font-style="italic">&#956;</tspan>V</text>
<line x1="892.5" y1="782.9" x2="940.7" y2="782.9" stroke="#78a537" stroke-width="3.5" stroke-dasharray="13 12.5"/>
<text x="945.2" y="789.6" textLength="153.45" lengthAdjust="spacing">implant: 1000 <tspan font-style="italic">&#956;</tspan>V</text>
</g>
<!-- caption -->
<g fill="#000">
<text x="88.7" y="1027.4" class="cal" font-size="33.6" textLength="1274.14" lengthAdjust="spacingAndGlyphs" stroke="#000" stroke-width="0.45" >Figure 1: Electrode placements identified by our algorithm show greater recording sensitivity</text>
<text x="88.8" y="1069.0" class="cal" font-size="33.6" textLength="1148.07" lengthAdjust="spacingAndGlyphs" stroke="#000" stroke-width="0.45" >than the clinician-generated and implanted placements, assuming a full cortex ROI.</text>
<text x="89.0" y="1110.6" class="cal" font-size="33.6" textLength="1272.78" lengthAdjust="spacingAndGlyphs" stroke="#000" stroke-width="0.45" >Top: Using 1mV resolution, our optimized 15-electrode configuration mapped 38% of the full</text>
<text x="88.8" y="1152.2" class="cal" font-size="33.6" textLength="1159.11" lengthAdjust="spacingAndGlyphs" stroke="#000" stroke-width="0.45" >cortex with at least one electrode, compared to the implanted configuration at 25%.</text>
<text x="87.8" y="1193.8" class="cal" font-size="33.6" textLength="1240.5" lengthAdjust="spacingAndGlyphs" stroke="#000" stroke-width="0.45" >Bottom: For all three resolutions, our optimized placements (solid lines) mapped ~ 10-20%</text>
<text x="87.8" y="1235.4" class="cal" font-size="33.6" textLength="1248.99" lengthAdjust="spacingAndGlyphs" stroke="#000" stroke-width="0.45" >more of the ROI compared to the clinically implanted configuration (dashed lines) for more</text>
<text x="88.4" y="1277.0" class="cal" font-size="33.6" textLength="263.84" lengthAdjust="spacingAndGlyphs" stroke="#000" stroke-width="0.45" >than 10 electrodes.</text>
</g>
</svg>
</body></html>
